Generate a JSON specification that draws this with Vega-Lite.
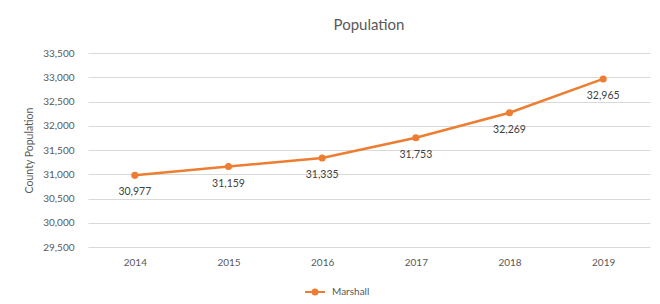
{
  "$schema": "https://vega.github.io/schema/vega-lite/v6.json",
  "width": 562,
  "height": 194,
  "autosize": {"type": "none"},
  "padding": {"left": 88, "top": 53, "right": 10, "bottom": 57},
  "background": "white",
  "title": {"text": "Population", "fontSize": 15, "font": "Lato", "fontWeight": "normal", "color": "#595959", "offset": 15},
  "data": {"values": [
    {"year": "2014", "pop": 30977, "county": "Marshall"},
    {"year": "2015", "pop": 31159, "county": "Marshall"},
    {"year": "2016", "pop": 31335, "county": "Marshall"},
    {"year": "2017", "pop": 31753, "county": "Marshall"},
    {"year": "2018", "pop": 32269, "county": "Marshall"},
    {"year": "2019", "pop": 32965, "county": "Marshall"}
  ]},
  "encoding": {
    "x": {"field": "year", "type": "ordinal", "scale": {"paddingInner": 0, "paddingOuter": 0.5}, "axis": {"title": null, "labelAngle": 0, "ticks": false, "domain": false, "labelPadding": 10}},
    "y": {"field": "pop", "type": "quantitative", "scale": {"domain": [29500, 33500], "nice": false, "zero": false}, "axis": {"title": "County Population", "values": [29500, 30000, 30500, 31000, 31500, 32000, 32500, 33000, 33500], "format": ",.0f", "ticks": false, "domain": false, "labelPadding": 14, "titlePadding": 8}}
  },
  "layer": [
    {"mark": {"type": "line", "strokeWidth": 2.5, "color": "#ED7D31"},
     "encoding": {"color": {"field": "county", "type": "nominal", "scale": {"range": ["#ED7D31"]},
       "legend": {"title": null, "orient": "none", "legendX": 216, "legendY": 228, "symbolType": "M-1,0L1,0M-0.25,0A0.25,0.25 0 1,1 0.25,0A0.25,0.25 0 1,1 -0.25,0Z", "symbolSize": 400, "symbolStrokeWidth": 2, "symbolFillColor": "#ED7D31", "symbolStrokeColor": "#ED7D31", "labelFontSize": 10, "labelColor": "#595959", "labelFont": "Lato", "labelOffset": 6}}}},
    {"mark": {"type": "circle", "size": 50, "color": "#ED7D31", "opacity": 1}},
    {"mark": {"type": "text", "dy": 17, "fontSize": 10.5, "color": "#404040", "font": "Lato"},
     "encoding": {"text": {"field": "pop", "type": "quantitative", "format": ","}}}
  ],
  "config": {
    "view": {"stroke": null},
    "axis": {"labelFont": "Lato", "labelFontSize": 10, "labelColor": "#595959", "titleFont": "Lato", "titleFontSize": 10.5, "titleFontWeight": "normal", "titleColor": "#595959", "gridColor": "#d9d9d9", "gridWidth": 1}
  }
}
